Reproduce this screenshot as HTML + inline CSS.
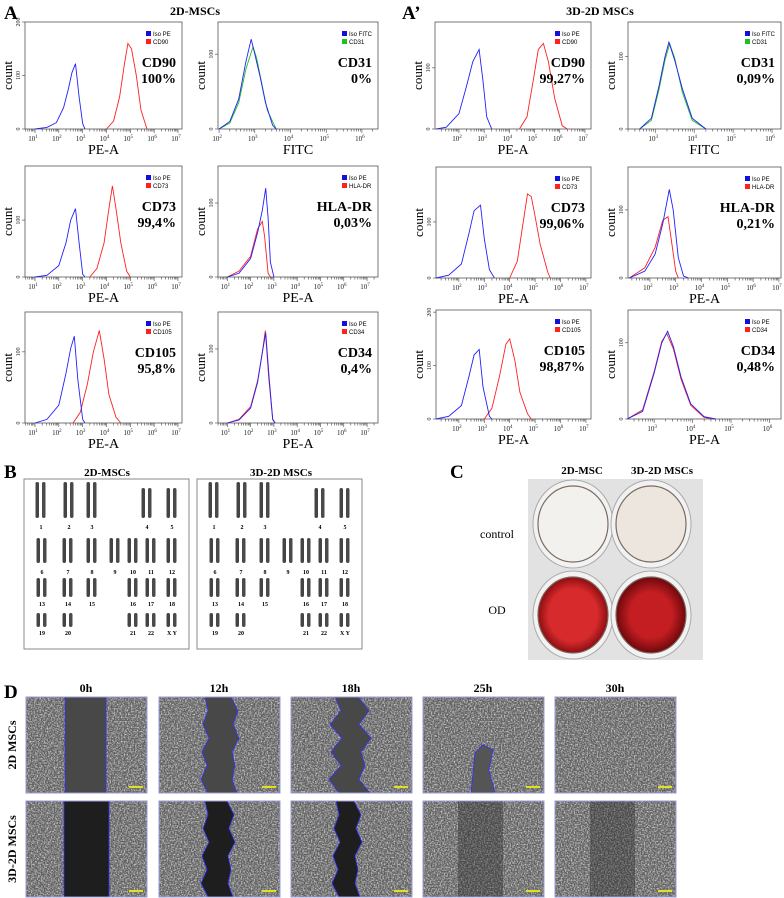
<!DOCTYPE html>
<html><head><meta charset="utf-8"><style>
html,body{margin:0;padding:0;background:#fff;}
svg{display:block;font-family:"Liberation Serif",serif;}
</style></head><body>
<svg id="fig" width="784" height="898" viewBox="0 0 784 898" xmlns="http://www.w3.org/2000/svg">
<defs>
<filter id="tex" x="0" y="0" width="100%" height="100%">
<feTurbulence type="fractalNoise" baseFrequency="0.7" numOctaves="2" seed="3"/>
<feColorMatrix type="matrix" values="0 0 0 0 0.85  0 0 0 0 0.85  0 0 0 0 0.85  2.2 0 0 0 -0.85"/>
</filter>
<radialGradient id="redg" cx="50%" cy="50%" r="50%"><stop offset="0.7" stop-color="#d62a2c"/><stop offset="1" stop-color="#8c0e12"/></radialGradient>
<radialGradient id="redg2" cx="50%" cy="50%" r="50%"><stop offset="0.6" stop-color="#c41e22"/><stop offset="1" stop-color="#6e080c"/></radialGradient>
</defs>
<g id="root"></g>
</svg>
<script>
// ---------- Flow cytometry data (log10 fluorescence, count) ----------
const cd90_2d_iso=[[1,0],[1.5,3],[1.9,12],[2.2,40],[2.4,75],[2.55,105],[2.7,122],[2.85,60],[3.0,10],[3.1,0]];
const cd90_2d=[[4.0,0],[4.3,15],[4.55,60],[4.75,120],[4.9,160],[5.05,150],[5.25,100],[5.45,35],[5.7,0]];
const cd31_2d_iso=[[2,0],[2.3,10],[2.55,40],[2.75,90],[2.9,120],[3.0,100],[3.15,70],[3.3,35],[3.5,5],[3.6,0]];
const cd31_2d=[[2,0],[2.3,8],[2.55,35],[2.75,80],[2.95,110],[3.05,95],[3.2,60],[3.35,25],[3.6,0]];
const cd73_2d_iso=[[1,0],[1.5,3],[2.0,20],[2.3,60],[2.5,100],[2.7,120],[2.85,60],[3.0,5],[3.1,0]];
const cd73_2d=[[3.3,0],[3.6,15],[3.9,60],[4.1,120],[4.25,160],[4.4,120],[4.6,60],[4.85,10],[5.0,0]];
const hla_2d_iso=[[1,0],[1.5,5],[2.0,25],[2.3,60],[2.5,90],[2.65,120],[2.75,80],[2.85,20],[3.0,0]];
const hla_2d=[[1,0],[1.5,8],[2.0,28],[2.3,65],[2.5,75],[2.6,55],[2.75,5],[2.85,0]];
const cd105_2d_iso=[[1,0],[1.5,5],[2.0,25],[2.3,70],[2.5,105],[2.65,122],[2.8,60],[3.0,5],[3.1,0]];
const cd105_2d=[[2.6,0],[2.9,15],[3.2,55],[3.45,100],[3.7,130],[3.9,90],[4.1,40],[4.4,8],[4.6,0]];
const cd34_2d_iso=[[1,0],[1.5,4],[2.0,20],[2.3,55],[2.5,95],[2.65,122],[2.8,60],[2.95,5],[3.05,0]];
const cd34_2d=[[1,0],[1.5,5],[2.0,22],[2.3,57],[2.5,95],[2.63,125],[2.78,60],[2.95,5],[3.05,0]];
const cd90_3d_iso=[[1.1,0],[1.5,3],[2.0,25],[2.3,70],[2.55,110],[2.8,130],[2.95,80],[3.1,20],[3.3,0]];
const cd90_3d=[[4.4,0],[4.7,20],[4.95,80],[5.15,130],[5.35,140],[5.55,110],[5.8,50],[6.1,5],[6.3,0]];
const cd31_3d_iso=[[2.6,0],[2.9,15],[3.1,60],[3.25,100],[3.35,120],[3.5,95],[3.7,55],[3.95,15],[4.3,0]];
const cd31_3d=[[2.6,0],[2.9,12],[3.1,55],[3.25,95],[3.37,118],[3.5,98],[3.7,50],[3.95,12],[4.3,0]];
const cd73_3d_iso=[[1.1,0],[1.6,5],[2.1,25],[2.4,80],[2.6,120],[2.85,130],[3.0,70],[3.2,15],[3.4,0]];
const cd73_3d=[[4.0,0],[4.3,30],[4.5,90],[4.7,150],[4.85,145],[5.0,110],[5.2,60],[5.5,10],[5.6,0]];
const hla_3d_iso=[[1.2,0],[1.8,10],[2.2,35],[2.5,80],[2.75,130],[2.9,100],[3.1,30],[3.3,3],[3.5,0]];
const hla_3d=[[1.2,0],[1.8,15],[2.2,45],[2.5,85],[2.7,90],[2.85,50],[3.0,10],[3.1,0]];
const cd105_3d_iso=[[1.1,0],[1.6,5],[2.1,25],[2.4,80],[2.6,120],[2.8,130],[2.95,60],[3.2,5],[3.3,0]];
const cd105_3d=[[3.0,0],[3.3,20],[3.6,80],[3.85,140],[4.0,150],[4.2,110],[4.4,50],[4.7,10],[4.85,0]];
const cd34_3d_iso=[[2.3,0],[2.7,10],[3.0,60],[3.2,100],[3.35,115],[3.5,95],[3.7,55],[3.95,20],[4.3,3],[4.6,0]];
const cd34_3d=[[2.3,0],[2.7,12],[3.0,62],[3.2,102],[3.33,112],[3.5,92],[3.7,52],[3.95,18],[4.3,2],[4.6,0]];

const NS="http://www.w3.org/2000/svg";
const root=document.getElementById('root');
function mk(tag,attrs,parent,txt){const e=document.createElementNS(NS,tag);for(const k in attrs)e.setAttribute(k,attrs[k]);if(txt!==undefined)e.textContent=txt;(parent||root).appendChild(e);return e;}

const plots=[
{id:'cd90-2d',x:25,y:22,w:157,h:107,xmin:0.58,xmax:7.17,t:[1,7],ymax:200,yt:[0,100,200],xl:'PE-A',iso:'Iso PE',lab:'CD90',col:'#ff2020',pct:'100%',a:cd90_2d_iso,b:cd90_2d},
{id:'cd31-2d',x:218,y:22,w:160,h:107,xmin:1.97,xmax:6.45,t:[2,6],ymax:143,yt:[0,100],xl:'FITC',iso:'Iso FITC',lab:'CD31',col:'#20c020',pct:'0%',a:cd31_2d_iso,b:cd31_2d},
{id:'cd73-2d',x:25,y:166,w:157,h:111,xmin:0.58,xmax:7.17,t:[1,7],ymax:195,yt:[0,100],xl:'PE-A',iso:'Iso PE',lab:'CD73',col:'#ff2020',pct:'99,4%',a:cd73_2d_iso,b:cd73_2d},
{id:'hla-2d',x:218,y:166,w:160,h:111,xmin:0.6,xmax:7.47,t:[1,7],ymax:150,yt:[0,100],xl:'PE-A',iso:'Iso PE',lab:'HLA-DR',col:'#ff2020',pct:'0,03%',a:hla_2d_iso,b:hla_2d},
{id:'cd105-2d',x:25,y:312,w:157,h:111,xmin:0.58,xmax:7.17,t:[1,7],ymax:156,yt:[0,100],xl:'PE-A',iso:'Iso PE',lab:'CD105',col:'#ff2020',pct:'95,8%',a:cd105_2d_iso,b:cd105_2d},
{id:'cd34-2d',x:218,y:312,w:160,h:111,xmin:0.6,xmax:7.47,t:[1,7],ymax:150,yt:[0,100],xl:'PE-A',iso:'Iso PE',lab:'CD34',col:'#ff2020',pct:'0,4%',a:cd34_2d_iso,b:cd34_2d},
{id:'cd90-3d',x:435,y:22,w:156,h:107,xmin:1.05,xmax:7.24,t:[2,7],ymax:175,yt:[0,100],xl:'PE-A',iso:'Iso PE',lab:'CD90',col:'#ff2020',pct:'99,27%',a:cd90_3d_iso,b:cd90_3d},
{id:'cd31-3d',x:628,y:22,w:153,h:107,xmin:2.3,xmax:6.23,t:[3,6],ymax:148,yt:[0,100],xl:'FITC',iso:'Iso FITC',lab:'CD31',col:'#20c020',pct:'0,09%',a:cd31_3d_iso,b:cd31_3d},
{id:'cd73-3d',x:436,y:167,w:155,h:111,xmin:1.1,xmax:7.2,t:[2,7],ymax:198,yt:[0,100],xl:'PE-A',iso:'Iso PE',lab:'CD73',col:'#ff2020',pct:'99,06%',a:cd73_3d_iso,b:cd73_3d},
{id:'hla-3d',x:628,y:167,w:153,h:111,xmin:1.15,xmax:7.08,t:[2,7],ymax:163,yt:[0,100],xl:'PE-A',iso:'Iso PE',lab:'HLA-DR',col:'#ff2020',pct:'0,21%',a:hla_3d_iso,b:hla_3d},
{id:'cd105-3d',x:436,y:310,w:155,h:109,xmin:1.1,xmax:7.2,t:[2,7],ymax:204,yt:[0,100,200],xl:'PE-A',iso:'Iso PE',lab:'CD105',col:'#ff2020',pct:'98,87%',a:cd105_3d_iso,b:cd105_3d},
{id:'cd34-3d',x:628,y:310,w:153,h:109,xmin:2.32,xmax:6.3,t:[3,6],ymax:143,yt:[0,100],xl:'PE-A',iso:'Iso PE',lab:'CD34',col:'#ff2020',pct:'0,48%',a:cd34_3d_iso,b:cd34_3d}
];

plots.forEach(p=>{
  const g=mk('g',{});
  
  
  const sx=v=>p.x+(v-p.xmin)/(p.xmax-p.xmin)*p.w;
  const sy=v=>p.y+p.h-v/p.ymax*p.h;
  mk('rect',{x:p.x,y:p.y,width:p.w,height:p.h,fill:'none',stroke:'#555','stroke-width':0.8},g);
  for(let d=Math.floor(p.xmin);d<=Math.ceil(p.xmax);d++){
    for(let m=1;m<10;m++){const v=d+Math.log10(m);if(v<p.xmin||v>p.xmax)continue;
      mk('line',{x1:sx(v),x2:sx(v),y1:p.y+p.h,y2:p.y+p.h+(m===1?4:2.5),stroke:'#444','stroke-width':0.6},g);}
  }
  for(let d=p.t[0];d<=p.t[1];d++){
    const t=mk('text',{x:sx(d)-2,y:p.y+p.h+12,'font-size':7,'text-anchor':'middle',fill:'#222'},g,'10');
    mk('tspan',{dy:-3,'font-size':5},t,String(d));
  }
  p.yt.forEach(v=>{const y=sy(v);
    mk('line',{x1:p.x-3,x2:p.x,y1:y,y2:y,stroke:'#444','stroke-width':0.6},g);
    mk('text',{x:p.x-5,y:y,'font-size':6,'text-anchor':'middle',transform:`rotate(-90 ${p.x-5} ${y})`,fill:'#222'},g,String(v));});
  const cy=p.y+p.h/2;
  const cl=mk('text',{x:p.x-13,y:cy,'font-size':13,'text-anchor':'middle',transform:`rotate(-90 ${p.x-13} ${cy})`},g,'count');
  
  
  const xl=mk('text',{x:p.x+p.w/2,y:p.y+p.h+25,'font-size':14,'text-anchor':'middle'},g,p.xl);
  
  
  const line=(arr,c,n)=>{const el=mk('polyline',{points:arr.map(q=>sx(q[0]).toFixed(1)+','+sy(q[1]).toFixed(1)).join(' '),fill:'none',stroke:c,'stroke-width':0.9},g);
    
    };
  line(p.b,p.col,'marker-curve');
  line(p.a,'#2020ff','isotype-curve');
  const lx=p.x+p.w-36, ly=p.y+9;
  const lg=mk('g',{},g);
  
  
  mk('rect',{x:lx,y:ly,width:5,height:5,fill:'#1010e0'},lg);
  mk('text',{x:lx+7,y:ly+5,'font-size':6,'font-family':'Liberation Sans, sans-serif'},lg,p.iso);
  mk('rect',{x:lx,y:ly+8,width:5,height:5,fill:p.col},lg);
  mk('text',{x:lx+7,y:ly+13,'font-size':6,'font-family':'Liberation Sans, sans-serif'},lg,p.lab);
  const t1=mk('text',{x:p.x+p.w-6,y:p.y+45,'font-size':14,'font-weight':'bold','text-anchor':'end'},g,p.lab);
  
  
  const t2=mk('text',{x:p.x+p.w-6,y:p.y+61,'font-size':14,'font-weight':'bold','text-anchor':'end'},g,p.pct);
  
  
});

function label(x,y,s,size,name,anchor){const t=mk('text',{x:x,y:y,'font-size':size,'font-weight':'bold','text-anchor':anchor||'start'},root,s);
  
  return t;}
label(4,19,'A',19,'panel-label-a');
label(195,15,'2D-MSCs',12,'title-2d',"middle");
label(402,19,'A’',19,'panel-label-a-prime');
label(600,15,'3D-2D MSCs',12,'title-3d',"middle");
label(4,478,'B',19,'panel-label-b');
label(107,476,'2D-MSCs',11,'karyotype-title-2d','middle');
label(281,476,'3D-2D MSCs',11,'karyotype-title-3d','middle');
label(450,478,'C',19,'panel-label-c');
label(582,474,'2D-MSC',11,'plate-title-2d','middle');
label(662,474,'3D-2D MSCs',11,'plate-title-3d','middle');
label(4,698,'D',19,'panel-label-d');

// ---------- Karyotypes ----------
const chromLabels=['1','2','3','4','5','6','7','8','9','10','11','12','13','14','15','16','17','18','19','20','21','22','X Y'];
const chromCols=[41,69,92,147,172,42,68,92,115,133,151,172,42,68,92,133,151,172,42,68,133,151,172];
const chromRow=[0,0,0,0,0,1,1,1,1,1,1,1,2,2,2,2,2,2,3,3,3,3,3];
const rowTop=[482,538,578,613], rowBot=[518,563,597,627], rowNum=[529,574,606,635];
[0,173].forEach((off,bi)=>{
  const bx=mk('rect',{x:24+off,y:479,width:165,height:170,fill:'#fff',stroke:'#888','stroke-width':1});
  
  
  chromLabels.forEach((l,i)=>{
    const r=chromRow[i], cx=chromCols[i]+off;
    const len=rowBot[r]-rowTop[r]-((i===3||i===4)?6:0);
    const top=rowBot[r]-len;
    mk('rect',{x:cx-5.5,y:top,width:3.5,height:len,rx:1.7,fill:'#444'});
    mk('rect',{x:cx+1,y:top,width:3.5,height:len,rx:1.7,fill:'#4a4a4a'});
    mk('text',{x:cx,y:rowNum[r],'font-size':6,'font-weight':'bold','text-anchor':'middle'},root,l);
  });
});

// ---------- Alizarin plate ----------
const plate=mk('g',{});


mk('rect',{x:528,y:479,width:175,height:181,fill:'#e2e2e2'},plate);
[[573,524,'#f3f1ee'],[651,524,'#ece6df'],[573,615,'url(#redg)'],[651,615,'url(#redg2)']].forEach(w=>{
  mk('ellipse',{cx:w[0],cy:w[1],rx:40,ry:44,fill:'#f2f2f2',stroke:'#aaa','stroke-width':1},plate);
  mk('ellipse',{cx:w[0],cy:w[1],rx:35,ry:38,fill:w[2],stroke:'#7a6a60','stroke-width':1.2},plate);
});
const lc=mk('text',{x:497,y:538,'font-size':12,'text-anchor':'middle'},root,'control');


const lo=mk('text',{x:497,y:614,'font-size':12,'text-anchor':'middle'},root,'OD');



// ---------- Scratch assay ----------
const times=['0h','12h','18h','25h','30h'];
const colX=[26,159,291,423,555];
const rowY=[697,801];
const gapL=[[39,46,44,null,null],[38,46,45,null,null]];
const gapW=[[41,30,30,null,null],[45,26,22,null,null]];
const wig=[[0,0,0,0,0,0,0,0],[0,3,-2,4,-3,2,-4,3],[0,6,-5,7,-4,6,-6,4]];
times.forEach((t,i)=>{
  const tl=mk('text',{x:colX[i]+60,y:692,'font-size':12,'font-weight':'bold','text-anchor':'middle'},root,t);
  
  
  rowY.forEach((y,r)=>{
    const g=mk('g',{});
    
    
    mk('rect',{x:colX[i],y:y,width:121,height:96,fill:'#5e5e5e'},g);
    mk('rect',{x:colX[i],y:y,width:121,height:96,filter:'url(#tex)',opacity:0.85},g);
    if(gapL[r][i]!==null){
      const gx=colX[i]+gapL[r][i], gw=gapW[r][i], wv=r?wig[Math.min(i,1)]:wig[i];
      let d='M'+(gx+wv[0])+' '+y;
      for(let k=1;k<8;k++) d+=' L'+(gx+wv[k])+' '+(y+k*96/7);
      for(let k=7;k>=0;k--) d+=' L'+(gx+gw-wv[(k+3)%8])+' '+(y+k*96/7);
      d+=' Z';
      mk('path',{d:d,fill:r?'#1e1e1e':'#484848',stroke:'#3030ff','stroke-width':0.8},g);
    } else if(r===1){
      mk('rect',{x:colX[i]+35,y:y,width:45,height:96,fill:'#202020',opacity:0.35},g);
    } else if(i===3){
      mk('path',{d:`M${colX[i]+48} ${y+96} l4 -40 l8 -8 l10 5 l-4 20 l6 23 z`,fill:'#555',stroke:'#3030ff','stroke-width':0.8},g);
    }
    mk('rect',{x:colX[i],y:y,width:121,height:96,fill:'none',stroke:'#9a9ad8','stroke-width':1},g);
    mk('rect',{x:colX[i]+103,y:y+89,width:14,height:2,fill:'#e0e020'},g);
  });
});
const r1=mk('text',{x:16,y:745,'font-size':12,'font-weight':'bold','text-anchor':'middle',transform:'rotate(-90 16 745)'},root,'2D MSCs');


const r2=mk('text',{x:16,y:849,'font-size':12,'font-weight':'bold','text-anchor':'middle',transform:'rotate(-90 16 849)'},root,'3D-2D MSCs');


</script>
</body></html>
